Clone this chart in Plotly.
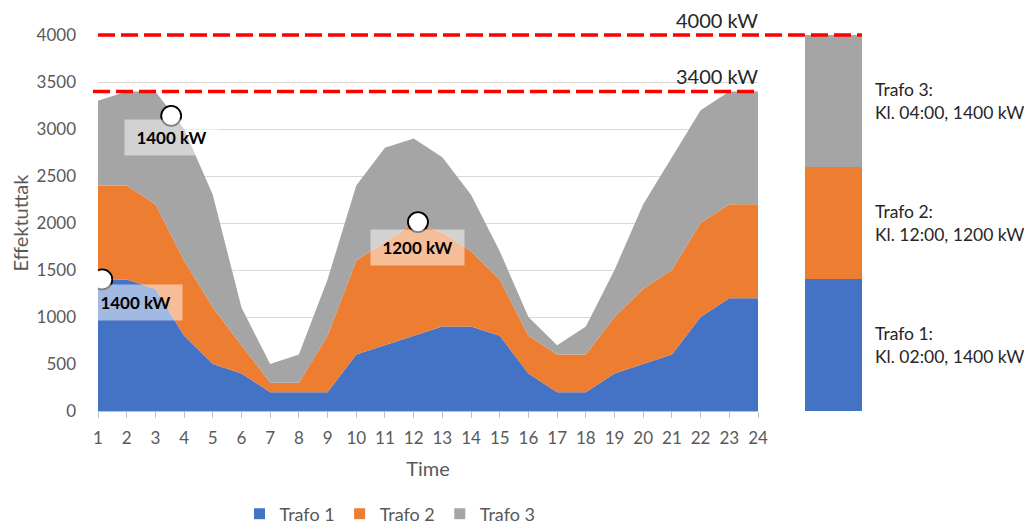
import plotly.graph_objects as go

# ---------------- data ----------------
hours = list(range(1, 25))
trafo1 = [1400, 1400, 1300, 800, 500, 400, 200, 200, 200, 600, 700, 800,
          900, 900, 800, 400, 200, 200, 400, 500, 600, 1000, 1200, 1200]
trafo2 = [1000, 1000, 900, 800, 600, 300, 100, 100, 600, 1000, 1100, 1200,
          1000, 800, 600, 400, 400, 400, 600, 800, 900, 1000, 1000, 1000]
trafo3 = [900, 1000, 1200, 1400, 1200, 400, 200, 300, 600, 800, 1000, 900,
          800, 600, 300, 200, 100, 300, 500, 900, 1200, 1200, 1200, 1200]
series_names = ["Trafo 1", "Trafo 2", "Trafo 3"]
colors = ["#4472C4", "#ED7D31", "#A5A5A5"]

# peak capacity per transformer (right-hand stacked bar)
peak_kw = [1400, 1200, 1400]
peak_text = ["Trafo 1:<br>Kl. 02:00, 1400 kW",
             "Trafo 2:<br>Kl. 12:00, 1200 kW",
             "Trafo 3:<br>Kl. 04:00, 1400 kW"]

# limit lines
limits_kw = [4000, 3400]
limit_labels = ["4000 kW", "3400 kW"]

# peak markers (circles) and their labels
marker_x = [1.15, 3.55, 12.15]
marker_y = [1400, 3140, 2010]
marker_labels = ["1400 kW", "1400 kW", "1200 kW"]

y_max = 4000
y_ticks = list(range(0, y_max + 1, 500))

FONT = "Lato"
GREY_TXT = "#595959"
DARK_TXT = "#262626"

fig = go.Figure()

for name, vals, col in zip(series_names, [trafo1, trafo2, trafo3], colors):
    fig.add_trace(go.Scatter(
        x=hours, y=vals, name=name, stackgroup="one", mode="lines",
        line=dict(width=0, color=col), fillcolor=col,
        showlegend=False, legendgroup=name, hoverinfo="x+y+name"))

# legend entries with square swatches
for name, col in zip(series_names, colors):
    fig.add_trace(go.Scatter(
        x=[None], y=[None], mode="markers", name=name, legendgroup=name,
        marker=dict(symbol="square", size=11, color=col)))

# right-hand stacked bar
for name, val, col in zip(series_names, peak_kw, colors):
    fig.add_trace(go.Bar(
        x=[0], y=[val], width=[1], marker=dict(color=col, line=dict(width=0)),
        xaxis="x2", yaxis="y2", showlegend=False, name=name))

# circle markers
fig.add_trace(go.Scatter(
    x=marker_x, y=marker_y, mode="markers", showlegend=False,
    marker=dict(size=20, color="white", line=dict(color="black", width=1.8)),
    hoverinfo="skip"))

# page body has an 8px margin -> lay out in page coordinates minus 8
OFF = 8
W, H = 1032 - OFF, 527 - OFF
ml = 98 - OFF
mt = 35 - OFF
plot_right = 862 - OFF
plot_bottom = 411 - OFF
mr = W - plot_right
mb = H - plot_bottom
pw = W - ml - mr
ph = H - mt - mb

def px2paper(px):
    return (px - OFF - ml) / pw

main_end = px2paper(758)
bar_start = px2paper(805)

dash_line = dict(color="#FF0000", width=3.5, dash="17px,6px")
shapes = [
    # 4000 kW line spans the area chart and the bar (paper refs so it is not clipped)
    dict(type="line", xref="paper", yref="paper", x0=0, x1=1,
         y0=limits_kw[0] / y_max, y1=limits_kw[0] / y_max, line=dash_line, layer="above"),
    dict(type="line", xref="paper", yref="paper", x0=px2paper(93), x1=main_end,
         y0=limits_kw[1] / y_max, y1=limits_kw[1] / y_max, line=dash_line, layer="above"),
]

annotations = []
for val, lab in zip(limits_kw, limit_labels):
    annotations.append(dict(xref="paper", yref="y", x=px2paper(760), y=val,
                            text=lab, showarrow=False, xanchor="right", yanchor="bottom",
                            yshift=1, font=dict(family=FONT, size=20, color=DARK_TXT)))

label_xshift = [33, 0, 0]
label_yshift = [-5, -3, -7]
for mx, my, lab, dx, dy in zip(marker_x, marker_y, marker_labels, label_xshift, label_yshift):
    annotations.append(dict(xref="x", yref="y", x=mx, y=my, text="<b>" + lab + "</b>",
                            showarrow=False, xanchor="center", yanchor="top",
                            xshift=dx, yshift=dy,
                            width=93, height=35, borderpad=0,
                            bgcolor="rgba(255,255,255,0.5)",
                            font=dict(family=FONT, size=17, color="black")))

# texts next to the right-hand bar
cum = 0
for val, txt in zip(peak_kw, peak_text):
    annotations.append(dict(xref="paper", yref="y", x=px2paper(873), y=cum + val / 2,
                            text=txt, showarrow=False, xanchor="left", yanchor="middle",
                            align="left", font=dict(family=FONT, size=17.5, color=DARK_TXT)))
    cum += val

fig.update_layout(
    width=W, height=H,
    margin=dict(l=ml, r=mr, t=mt, b=mb, autoexpand=False),
    paper_bgcolor="white", plot_bgcolor="white",
    font=dict(family=FONT, color=GREY_TXT),
    barmode="stack",
    xaxis=dict(domain=[0, main_end], range=[1, 24], tickmode="array", tickvals=hours,
               ticks="outside", ticklen=6, tickcolor="#BFBFBF", showline=True,
               linecolor="#BFBFBF", linewidth=1, showgrid=False, zeroline=False,
               automargin=False,
               tickfont=dict(size=17, color=GREY_TXT), ticklabelstandoff=6,
               title=dict(text="Time", font=dict(size=20, color=GREY_TXT), standoff=14)),
    yaxis=dict(range=[0, y_max], tickvals=y_ticks, showgrid=True, gridcolor="#D9D9D9",
               gridwidth=1.3, zeroline=False, showline=False, ticks="", automargin=False,
               tickfont=dict(size=17, color=GREY_TXT), ticklabelstandoff=21,
               title=dict(text="Effektuttak", font=dict(size=20, color=GREY_TXT), standoff=9)),
    xaxis2=dict(domain=[bar_start, 1], range=[-0.5, 0.5], visible=False, anchor="y2"),
    yaxis2=dict(range=[0, y_max], visible=False, anchor="x2"),
    legend=dict(orientation="h", x=px2paper(390), xanchor="center",
                y=(plot_bottom - (514 - OFF)) / ph,
                yanchor="middle", font=dict(size=18, color=GREY_TXT), itemwidth=30,
                tracegroupgap=0),
    shapes=shapes,
    annotations=annotations,
)

fig.write_html("out.html")
